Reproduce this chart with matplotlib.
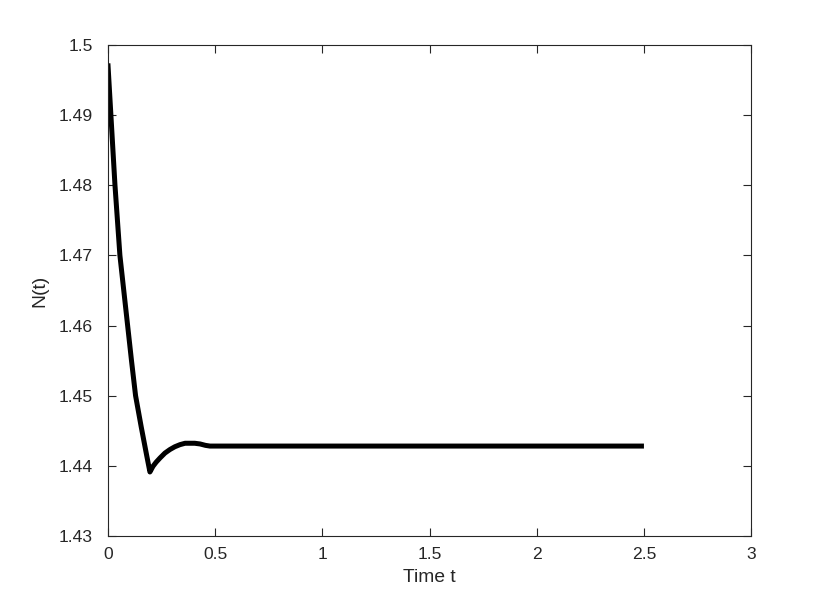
import numpy as np
import matplotlib
matplotlib.use("Agg")
import matplotlib.pyplot as plt

# values
t = [0.0, 0.014, 0.033, 0.056, 0.074, 0.092, 0.110, 0.129, 0.155, 0.18, 0.196,
     0.21, 0.225, 0.243, 0.266, 0.289, 0.312, 0.336, 0.36, 0.382, 0.405,
     0.43, 0.455, 0.476, 0.5, 0.55, 0.6, 0.7, 1.0, 1.5, 2.0, 2.5]
N = [1.4974, 1.4900, 1.4800, 1.4700, 1.4650, 1.4600, 1.4550, 1.4500, 1.4456, 1.4416, 1.4391,
     1.4399, 1.4405, 1.4411, 1.4418, 1.4423, 1.4427, 1.4430, 1.4432, 1.4432, 1.4432,
     1.4431, 1.4429, 1.4428, 1.4428, 1.4428, 1.4428, 1.4428, 1.4428, 1.4428, 1.4428, 1.4428]

xticks = [0, 0.5, 1, 1.5, 2, 2.5, 3]
xticklabels = ["0", "0.5", "1", "1.5", "2", "2.5", "3"]
yticks = [1.43, 1.44, 1.45, 1.46, 1.47, 1.48, 1.49, 1.5]
yticklabels = ["1.43", "1.44", "1.45", "1.46", "1.47", "1.48", "1.49", "1.5"]

plt.rcParams['font.family'] = ['Liberation Sans', 'DejaVu Sans']
fig = plt.figure(figsize=(8.3, 6.02), dpi=100)
ax = fig.add_axes([0.13, 0.11, 0.775, 0.815])

ax.plot(t, N, color='black', linewidth=3.6, solid_capstyle='butt', solid_joinstyle='round')

ax.set_xlim(0, 3)
ax.set_ylim(1.43, 1.5)
ax.set_xticks(xticks)
ax.set_xticklabels(xticklabels)
ax.set_yticks(yticks)
ax.set_yticklabels(yticklabels)

axcol = '#262626'
for s in ax.spines.values():
    s.set_color(axcol)
    s.set_linewidth(0.8)
ax.tick_params(direction='in', length=6, width=0.8, color=axcol, labelsize=12.6,
               top=True, right=True, labelcolor=axcol)
ax.tick_params(axis='x', pad=8)
ax.tick_params(axis='y', pad=11)

ax.set_xlabel("Time t", fontsize=13.9, color=axcol, labelpad=5)
ax.set_ylabel("N(t)", fontsize=13.9, color=axcol, labelpad=7)

fig.savefig("out.png", dpi=100)
